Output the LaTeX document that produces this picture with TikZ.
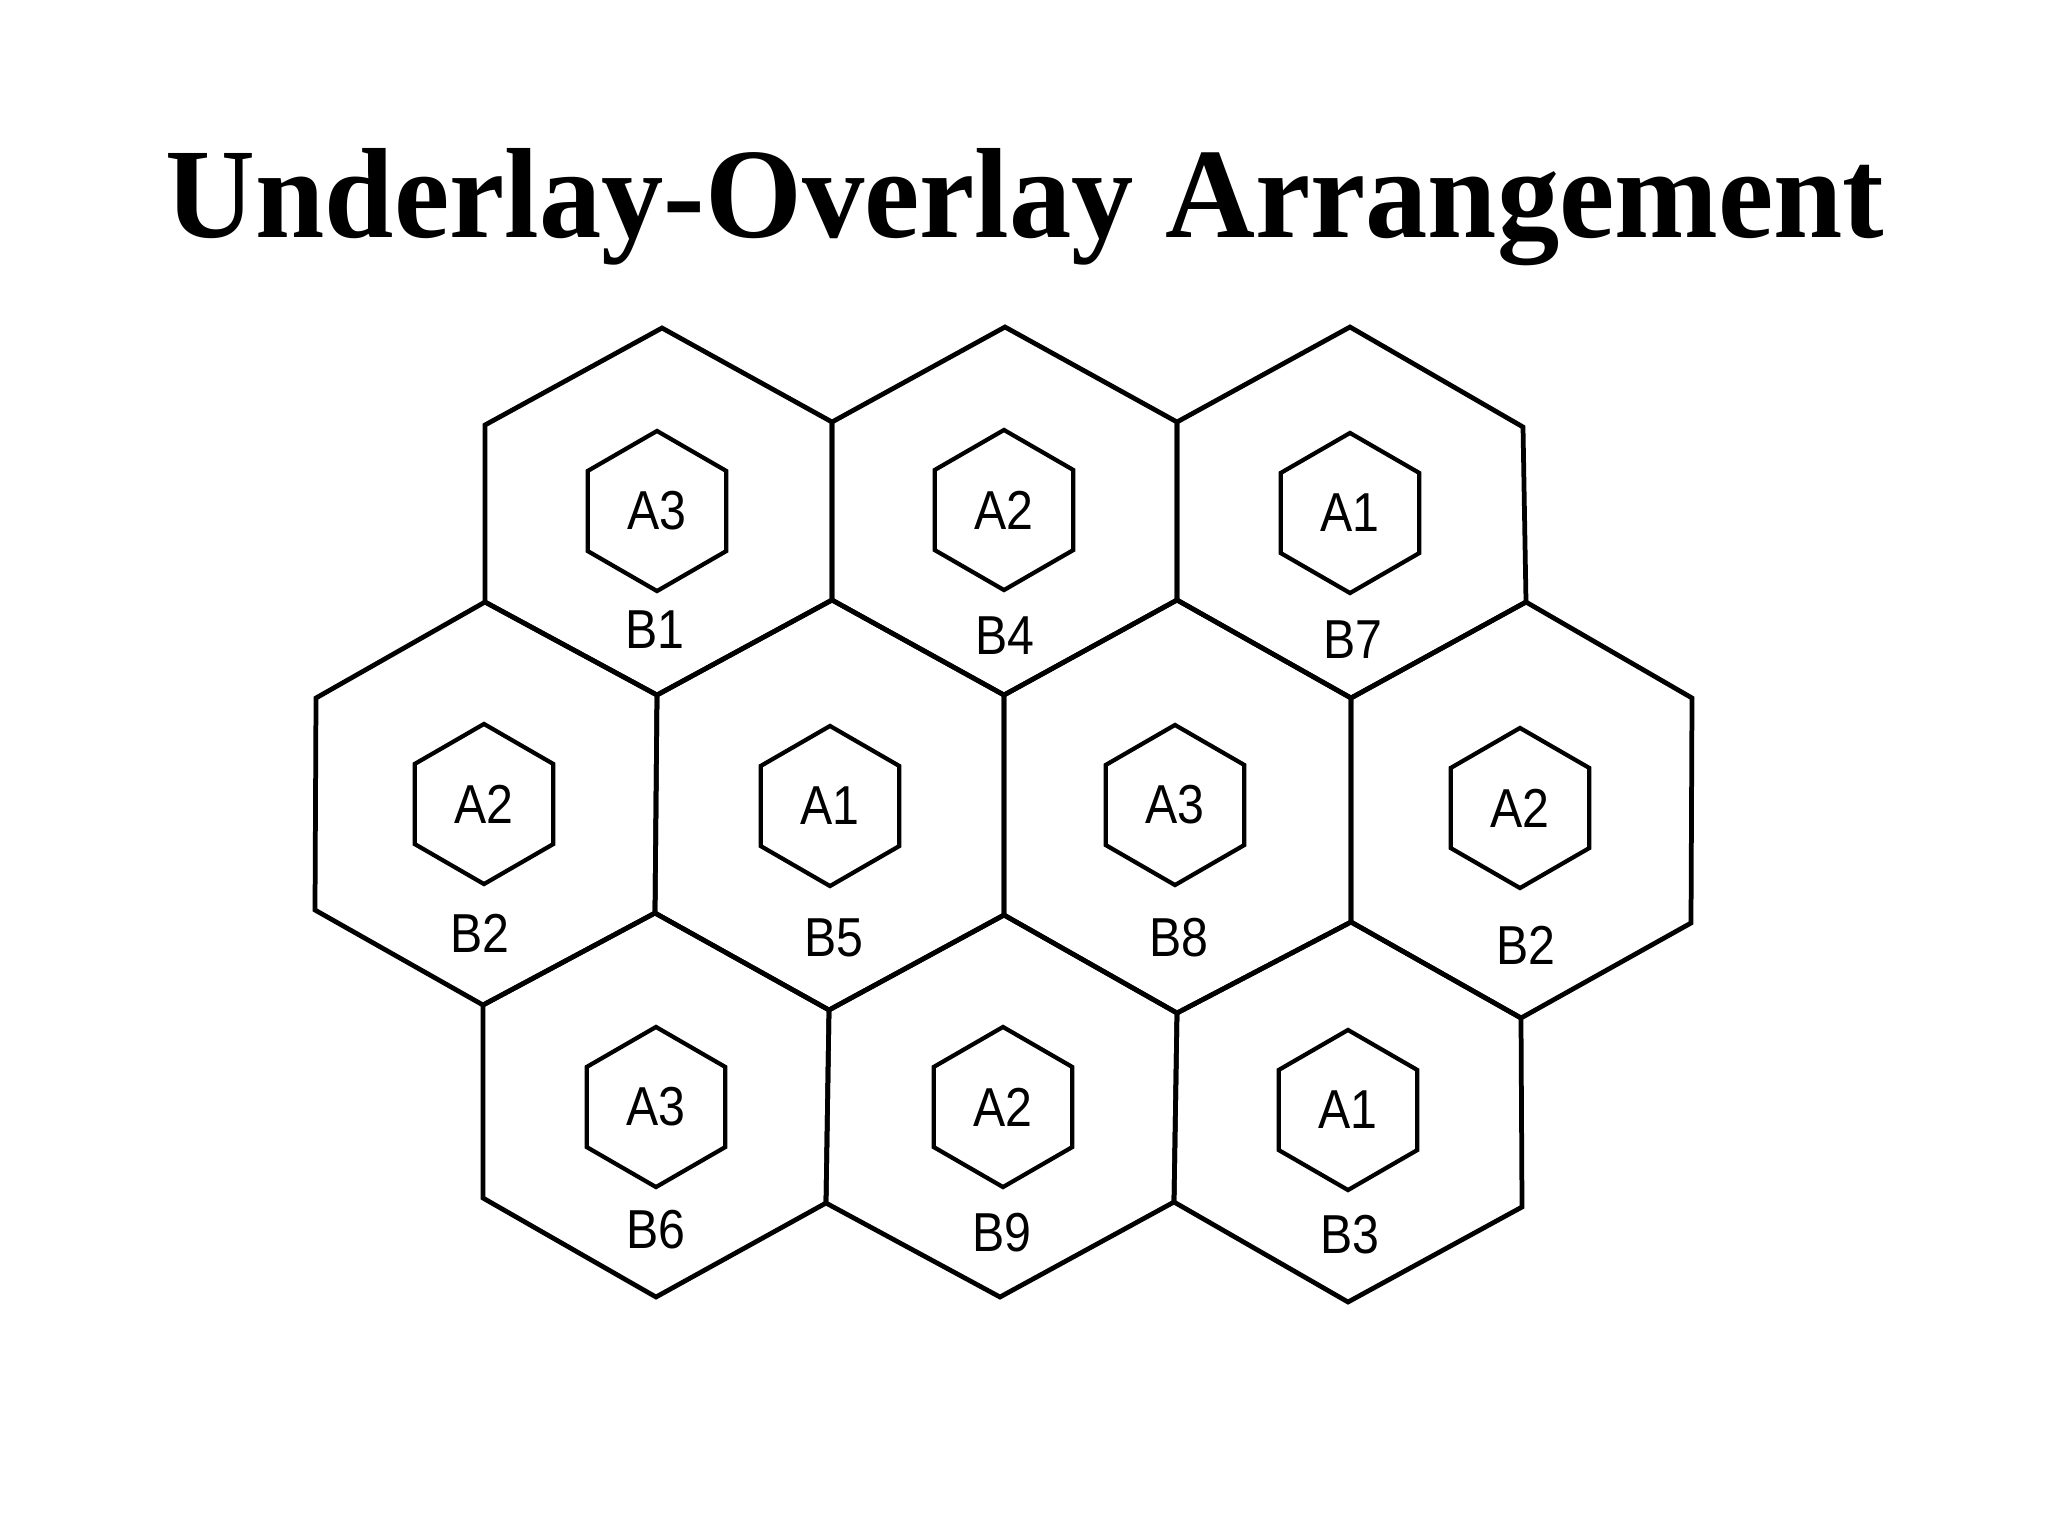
\documentclass[tikz,border=0pt]{standalone}
\usepackage{fontspec}
\setmainfont{Liberation Serif}
\newfontfamily\labfont{Liberation Sans}
\usetikzlibrary{shapes.geometric}
\newcommand{\lbltext}[1]{\scalebox{0.88}[1]{#1}}
\begin{document}
\begin{tikzpicture}[x=0.01cm,y=-0.01cm,
  cell/.style={draw=black,line width=1.35pt,line join=miter},
  ahex/.style={draw=black,regular polygon,regular polygon sides=6,shape border rotate=90,
    minimum size=1.6cm,inner sep=0pt,line width=1.2pt,
    font=\labfont\fontsize{15.6}{18}\selectfont},
  blab/.style={inner sep=0pt,font=\labfont\fontsize{15.6}{18}\selectfont},
  titletext/.style={anchor=base,inner sep=0pt,font=\bfseries\fontsize{36.5}{40}\selectfont}]
\useasboundingbox (0,0) rectangle (2048,1536);
\fill[white] (0,0) rectangle (2048,1536);

\node[titletext] (title) at (1025,237) {\scalebox{0.97}[1]{Underlay-Overlay Arrangement}};

% honeycomb vertices
\coordinate (T1) at (662,328);
\coordinate (T4) at (1005,327);
\coordinate (T7) at (1350,327);
\coordinate (U0) at (485,425);
\coordinate (U1) at (832,422);
\coordinate (U2) at (1177,422);
\coordinate (U3) at (1523,427);
\coordinate (L0) at (485,602);
\coordinate (L1) at (832,600);
\coordinate (L2) at (1177,600);
\coordinate (L3) at (1526,602);
\coordinate (M0) at (316,698);
\coordinate (M1) at (657,695);
\coordinate (M2) at (1004,695);
\coordinate (M3) at (1351,698);
\coordinate (M4) at (1692,698);
\coordinate (N0) at (315,910);
\coordinate (N1) at (655,913);
\coordinate (N2) at (1004,915);
\coordinate (N3) at (1351,922);
\coordinate (N4) at (1691,923);
\coordinate (P0) at (483,1005);
\coordinate (P1) at (829,1010);
\coordinate (P2) at (1177,1013);
\coordinate (P3) at (1521,1018);
\coordinate (Q0) at (483,1198);
\coordinate (Q1) at (826,1203);
\coordinate (Q2) at (1174,1202);
\coordinate (Q3) at (1522,1207);
\coordinate (R6) at (656,1297);
\coordinate (R9) at (1000,1297);
\coordinate (R3) at (1348,1302);

% large cells
\draw[cell] (T1) -- (U1) -- (L1) -- (M1) -- (L0) -- (U0) -- cycle;
\draw[cell] (T4) -- (U2) -- (L2) -- (M2) -- (L1) -- (U1) -- cycle;
\draw[cell] (T7) -- (U3) -- (L3) -- (M3) -- (L2) -- (U2) -- cycle;
\draw[cell] (L0) -- (M1) -- (N1) -- (P0) -- (N0) -- (M0) -- cycle;
\draw[cell] (L1) -- (M2) -- (N2) -- (P1) -- (N1) -- (M1) -- cycle;
\draw[cell] (L2) -- (M3) -- (N3) -- (P2) -- (N2) -- (M2) -- cycle;
\draw[cell] (L3) -- (M4) -- (N4) -- (P3) -- (N3) -- (M3) -- cycle;
\draw[cell] (N1) -- (P1) -- (Q1) -- (R6) -- (Q0) -- (P0) -- cycle;
\draw[cell] (N2) -- (P2) -- (Q2) -- (R9) -- (Q1) -- (P1) -- cycle;
\draw[cell] (N3) -- (P3) -- (Q3) -- (R3) -- (Q2) -- (P2) -- cycle;

% small cells
\node[ahex] (a1) at (657,511) {\lbltext{A3}};
\node[ahex] (a4) at (1004,510) {\lbltext{A2}};
\node[ahex] (a7) at (1350,513) {\lbltext{A1}};
\node[ahex] (a2) at (484,804) {\lbltext{A2}};
\node[ahex] (a5) at (830,806) {\lbltext{A1}};
\node[ahex] (a8) at (1175,805) {\lbltext{A3}};
\node[ahex] (a2r) at (1520,808) {\lbltext{A2}};
\node[ahex] (a6) at (656,1107) {\lbltext{A3}};
\node[ahex] (a9) at (1003,1107) {\lbltext{A2}};
\node[ahex] (a3) at (1348,1110) {\lbltext{A1}};

% cell labels
\node[blab] (b1) at (655,630) {\lbltext{B1}};
\node[blab] (b4) at (1005,636) {\lbltext{B4}};
\node[blab] (b7) at (1353,640) {\lbltext{B7}};
\node[blab] (b2) at (480,933) {\lbltext{B2}};
\node[blab] (b5) at (834,938) {\lbltext{B5}};
\node[blab] (b8) at (1179,938) {\lbltext{B8}};
\node[blab] (b2r) at (1526,945) {\lbltext{B2}};
\node[blab] (b6) at (656,1230) {\lbltext{B6}};
\node[blab] (b9) at (1002,1233) {\lbltext{B9}};
\node[blab] (b3) at (1350,1235) {\lbltext{B3}};
\end{tikzpicture}
\end{document}
